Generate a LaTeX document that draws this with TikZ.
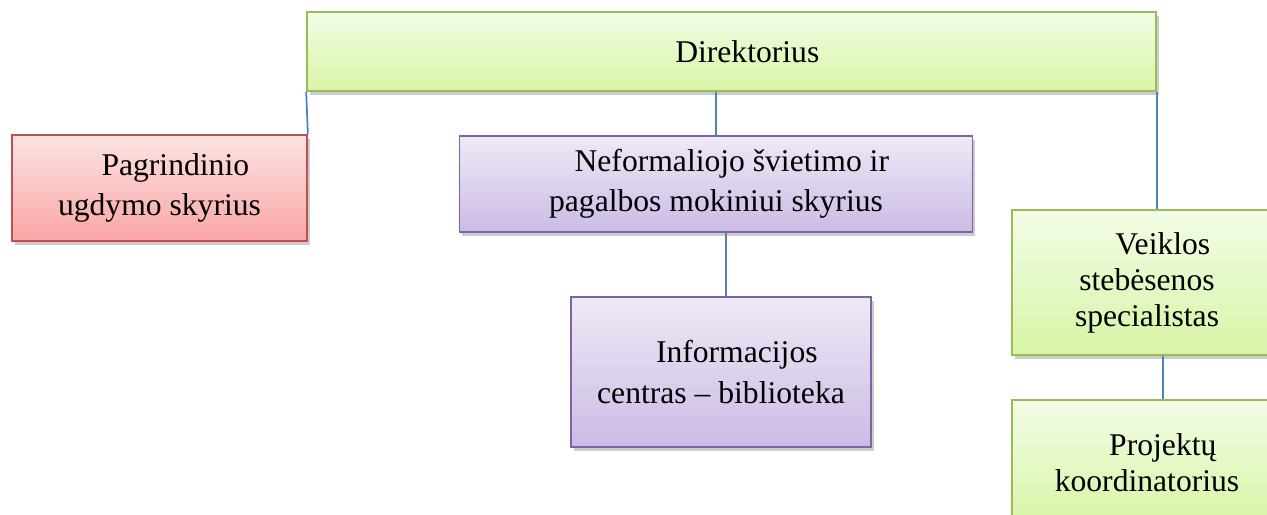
\documentclass[tikz,border=0pt]{standalone}
\usepackage{fontspec}
\setmainfont{Liberation Serif}
\usetikzlibrary{shadows}
\definecolor{grnEdge}{HTML}{9BBB59}
\definecolor{grnTop}{HTML}{F3FCE6}
\definecolor{grnBot}{HTML}{D7F5A6}
\definecolor{redEdge}{HTML}{C0504D}
\definecolor{redTop}{HTML}{FDE3E3}
\definecolor{redBot}{HTML}{F9A6A5}
\definecolor{vioEdge}{HTML}{8064A2}
\definecolor{vioTop}{HTML}{EEE9F6}
\definecolor{vioBot}{HTML}{CBBBE5}
\definecolor{linkBlue}{HTML}{4F81BD}
\tikzset{
  orgbox/.style={draw, line width=1pt, inner sep=0pt, align=center,
    font=\fontsize{18}{23}\selectfont,
    drop shadow={shadow xshift=1.5pt, shadow yshift=-2.5pt, fill=black!50, opacity=0.4}},
  greenbox/.style={orgbox, draw=grnEdge, top color=grnTop, bottom color=grnBot},
  redbox/.style={orgbox, draw=redEdge, top color=redTop, bottom color=redBot},
  violetbox/.style={orgbox, draw=vioEdge, top color=vioTop, bottom color=vioBot},
  link/.style={draw=linkBlue, line width=1pt}
}
\begin{document}
\begin{tikzpicture}[x=0.02cm, y=-0.02cm]
  \useasboundingbox (0,0) rectangle (1267,514);
  %% top
  \node[greenbox, minimum width=16.98cm, minimum height=1.58cm] (dir) at (731.5,51.5)
    {\hspace*{1em}Direktorius};
  %% departments
  \node[redbox, minimum width=5.9cm, minimum height=2.12cm] (pag) at (159.5,188)
    {\hspace*{1em}Pagrindinio\\ugdymo skyrius};
  \node[violetbox, minimum width=10.26cm, minimum height=1.92cm] (nef) at (716,184)
    {\hspace*{1em}Neformaliojo švietimo ir\\pagalbos mokiniui skyrius};
  \node[violetbox, minimum width=6cm, minimum height=3cm] (inf) at (721,372)
    {\hspace*{1em}Informacijos\\centras -- biblioteka};
  \node[greenbox, minimum width=5.4cm, minimum height=2.9cm, font=\fontsize{18}{20.5}\selectfont] (vei) at (1147,282.5)
    {\hspace*{1em}Veiklos\\stebėsenos\\specialistas};
  \node[greenbox, minimum width=5.4cm, minimum height=2.5cm, font=\fontsize{18}{20.5}\selectfont] (pro) at (1147,462.5)
    {\hspace*{1em}Projektų\\koordinatorius};
  %% links
  \draw[link] (dir.south west) -- (pag.north east);
  \draw[link] (nef.north) -- (nef.north |- dir.south);
  \draw[link] ([xshift=0.1cm]inf.north) -- ([xshift=0.1cm]inf.north |- nef.south);
  \draw[link] (dir.south east) -- (dir.south east |- vei.north);
  \draw[link] ([xshift=0.32cm]vei.south) -- ([xshift=0.32cm]pro.north);
\end{tikzpicture}
\end{document}
